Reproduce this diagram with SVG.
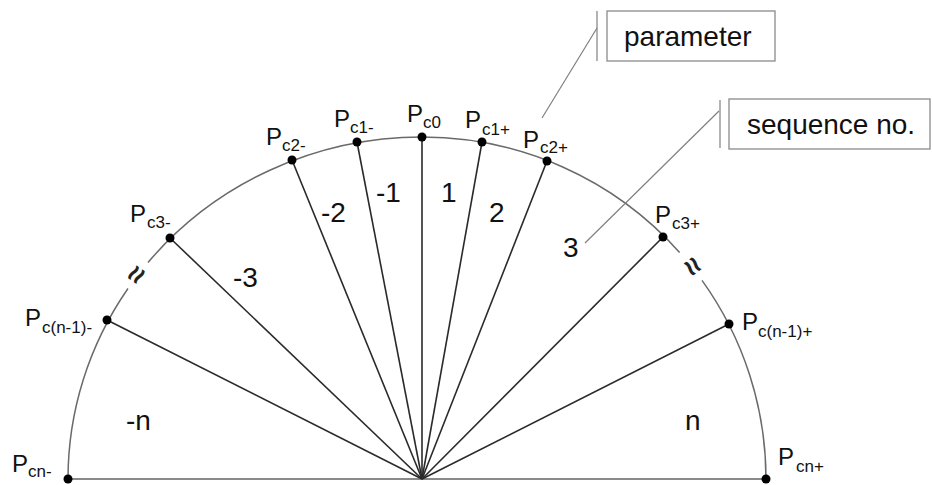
<svg xmlns="http://www.w3.org/2000/svg" width="933" height="485" viewBox="0 0 933 485">
<style>
.arc{fill:none;stroke:#6a6a6a;stroke-width:1.5}
.base{stroke:#8a8a8a;stroke-width:2}
.ray{stroke:#2a2a2a;stroke-width:1.6}
.lead{stroke:#808080;stroke-width:1.2;fill:none}
.box{fill:#fff;stroke:#8a8a8a;stroke-width:1.3}
.dot{fill:#000}
text{font-family:"Liberation Sans",Arial,sans-serif;fill:#111}
.p{font-size:24px}
.s{font-size:17px}
.num{font-size:28px}
.lbl{font-size:28px}
.brk{font-size:30px;font-weight:bold;fill:#222}
</style>
<rect width="933" height="485" fill="#fff"/>
<g id="connectors">
<path class="arc" d="M68,479 A354,342 0 0 1 128,288.5 M148,262.5 A354,342 0 0 1 422,137 A344,342 0 0 1 679.6,252.4 M702,280.4 A344,342 0 0 1 766,479"/>
<line class="base" x1="68" y1="479" x2="766" y2="479"/>
<line class="ray" x1="422" y1="479" x2="107" y2="320"/>
<line class="ray" x1="422" y1="479" x2="170" y2="238"/>
<line class="ray" x1="422" y1="479" x2="292" y2="160"/>
<line class="ray" x1="422" y1="479" x2="357" y2="142"/>
<line class="ray" x1="422" y1="479" x2="422" y2="137"/>
<line class="ray" x1="422" y1="479" x2="482" y2="142"/>
<line class="ray" x1="422" y1="479" x2="547" y2="161"/>
<line class="ray" x1="422" y1="479" x2="663" y2="237"/>
<line class="ray" x1="422" y1="479" x2="729" y2="324"/>
<line class="lead" x1="597" y1="28" x2="542" y2="118"/>
<line class="lead" x1="719" y1="111" x2="585" y2="243"/>
</g>
<g id="breaks">
<text class="brk" x="137" y="284" text-anchor="middle" transform="rotate(-55 137 275)">≈</text>
<text class="brk" x="692" y="276" text-anchor="middle" transform="rotate(52 692 267)">≈</text>
</g>
<g id="node-pcn-minus"><circle class="dot" cx="68" cy="479" r="4.5"/><text class="p" x="12" y="472">P</text><text class="s" x="28" y="477">cn-</text></g>
<g id="node-pcn1-minus"><circle class="dot" cx="107" cy="320" r="4.5"/><text class="p" x="25" y="326">P</text><text class="s" x="42" y="333">c(n-1)-</text></g>
<g id="node-pc3-minus"><circle class="dot" cx="170" cy="238" r="4.5"/><text class="p" x="130" y="222">P</text><text class="s" x="147" y="228">c3-</text></g>
<g id="node-pc2-minus"><circle class="dot" cx="292" cy="160" r="4.5"/><text class="p" x="266" y="145">P</text><text class="s" x="282" y="151">c2-</text></g>
<g id="node-pc1-minus"><circle class="dot" cx="357" cy="142" r="4.5"/><text class="p" x="334" y="127">P</text><text class="s" x="350" y="133">c1-</text></g>
<g id="node-pc0"><circle class="dot" cx="422" cy="137" r="4.5"/><text class="p" x="407" y="122">P</text><text class="s" x="423" y="128">c0</text></g>
<g id="node-pc1-plus"><circle class="dot" cx="482" cy="142" r="4.5"/><text class="p" x="465" y="128">P</text><text class="s" x="482" y="135">c1+</text></g>
<g id="node-pc2-plus"><circle class="dot" cx="547" cy="161" r="4.5"/><text class="p" x="523" y="148">P</text><text class="s" x="540" y="153">c2+</text></g>
<g id="node-pc3-plus"><circle class="dot" cx="663" cy="237" r="4.5"/><text class="p" x="655" y="223">P</text><text class="s" x="672" y="229">c3+</text></g>
<g id="node-pcn1-plus"><circle class="dot" cx="729" cy="324" r="4.5"/><text class="p" x="742" y="330">P</text><text class="s" x="758" y="337">c(n-1)+</text></g>
<g id="node-pcn-plus"><circle class="dot" cx="766" cy="479" r="4.5"/><text class="p" x="778" y="465">P</text><text class="s" x="796" y="472">cn+</text></g>
<g id="sectors">
<text class="num" x="126" y="430">-n</text>
<text class="num" x="233" y="287">-3</text>
<text class="num" x="321" y="222">-2</text>
<text class="num" x="376" y="202">-1</text>
<text class="num" x="441" y="202">1</text>
<text class="num" x="489" y="222">2</text>
<text class="num" x="563" y="257">3</text>
<text class="num" x="685" y="430">n</text>
</g>
<g id="parameter">
<line class="lead" x1="597" y1="11" x2="597" y2="61"/>
<rect class="box" x="607" y="11" width="168" height="50"/>
<text class="lbl" x="624" y="46">parameter</text>
</g>
<g id="sequence">
<line class="lead" x1="720" y1="100" x2="720" y2="148"/>
<rect class="box" x="729" y="99" width="201" height="50"/>
<text class="lbl" x="747" y="134">sequence no.</text>
</g>
</svg>
